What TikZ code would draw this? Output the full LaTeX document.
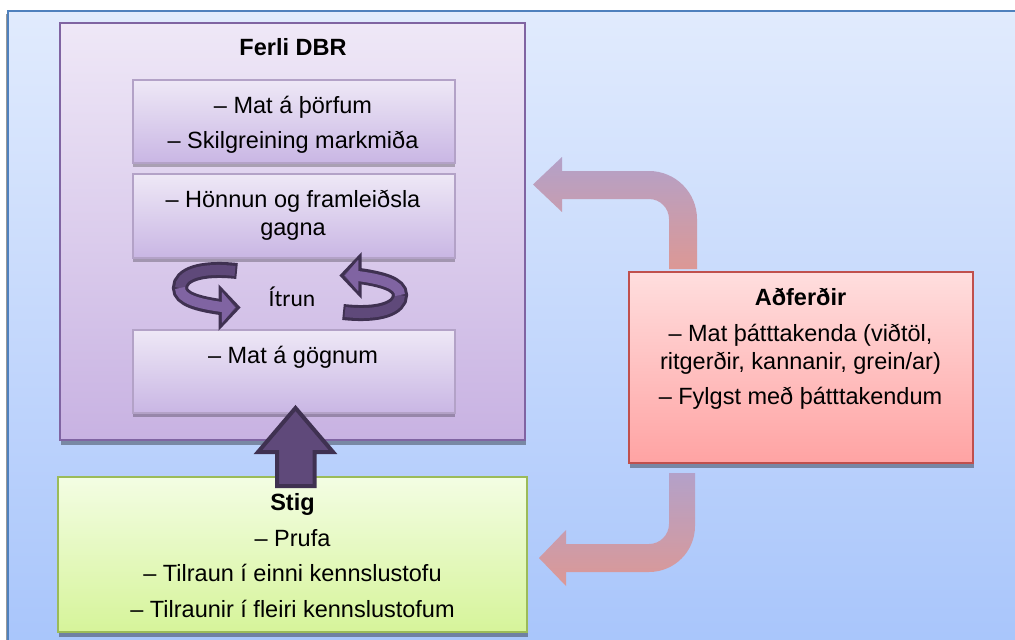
\documentclass[tikz,border=0pt]{standalone}
\usepackage{fontspec}
\setmainfont{Liberation Sans}
\newfontfamily\calibrifont{Carlito}
\usetikzlibrary{shadows,calc}
\definecolor{bgtop}{HTML}{E1EBFD}
\definecolor{bgbot}{HTML}{A8C5FB}
\definecolor{bgline}{HTML}{4F81BD}
\definecolor{purtop}{HTML}{EFE8F7}
\definecolor{purbot}{HTML}{C8B2E2}
\definecolor{purline}{HTML}{8064A2}
\definecolor{intop}{HTML}{EEE8F6}
\definecolor{inbot}{HTML}{C9B6E4}
\definecolor{inline}{HTML}{B3A2C7}
\definecolor{redtop}{HTML}{FFDEDE}
\definecolor{redbot}{HTML}{FFA3A3}
\definecolor{redline}{HTML}{C0504D}
\definecolor{grntop}{HTML}{F3FDE3}
\definecolor{grnbot}{HTML}{D6F49A}
\definecolor{grnline}{HTML}{9BBB59}
\definecolor{darkpur}{HTML}{5F497A}
\definecolor{darkline}{HTML}{3F3151}
\definecolor{midpur}{HTML}{8064A2}
\definecolor{bendtop}{HTML}{B3A1C9}
\definecolor{bendbot}{HTML}{DC9895}
\begin{document}
\begin{tikzpicture}[x=1pt,y=-1pt,
  ln/.style={anchor=base, inner sep=0pt, font=\fontsize{23.5}{28}\selectfont},
  hd/.style={anchor=base, inner sep=0pt, font=\fontsize{23.5}{28}\selectfont\bfseries},
  boxbase/.style={rectangle, inner sep=0pt},
  bigbox/.style={boxbase, draw=purline, line width=2.2pt, top color=purtop, bottom color=purbot,
     drop shadow={shadow xshift=1pt, shadow yshift=-5pt, opacity=.35, fill=black}},
  inbox/.style={boxbase, draw=inline, line width=1.6pt, top color=intop, bottom color=inbot,
     minimum width=322, minimum height=83,
     drop shadow={shadow xshift=0pt, shadow yshift=-4pt, opacity=.25, fill=black}},
  redbox/.style={boxbase, draw=redline, line width=2pt, top color=redtop, bottom color=redbot,
     drop shadow={shadow xshift=1pt, shadow yshift=-5pt, opacity=.35, fill=black}},
  grnbox/.style={boxbase, draw=grnline, line width=2pt, top color=grntop, bottom color=grnbot,
     drop shadow={shadow xshift=1pt, shadow yshift=-5pt, opacity=.35, fill=black}},
  bentarrow/.style={top color=bendtop, bottom color=bendbot, draw=none},
  blockarrow/.style={fill=darkpur, draw=darkline, line width=4pt, line join=miter},
  ringout/.style={draw=darkline, line width=16pt, line cap=butt},
  ringback/.style={draw=darkpur, line width=10pt, line cap=butt},
  ringfront/.style={draw=midpur, line width=10pt, line cap=butt},
]
\useasboundingbox (0,0) rectangle (1015,640);
\clip (0,0) rectangle (1015,640);
% background frame
\draw[line width=2pt, draw=bgline, top color=bgtop, bottom color=bgbot,
  drop shadow={shadow xshift=-2pt, shadow yshift=-3pt, opacity=.4, fill=black}]
  (7.5,10.5) rectangle (1035,648);

% bent arrows (drawn below boxes)
\draw[bentarrow] (669,269) -- (669,219) .. controls (669,208) and (660,199) .. (649,199)
  -- (562,199) -- (562,212) -- (533,184.5) -- (562,157) -- (562,171) -- (649,171)
  .. controls (675.5,171) and (697,192.5) .. (697,219) -- (697,269) -- cycle;
\draw[bentarrow] (669,473) -- (695,473) -- (695,526) .. controls (695,551.4) and (674.4,572) .. (649,572)
  -- (566,572) -- (566,586) -- (539,558) -- (566,530) -- (566,544) -- (649,544)
  .. controls (660,544) and (669,535) .. (669,524) -- cycle;

% main boxes
\node[bigbox, minimum width=465, minimum height=417] (ferli) at (292.5,231.5) {};
\node[inbox] (b1) at (294,121.5) {};
\node[inbox, minimum height=84] (b2) at (294,216) {};
\node[inbox] (b3) at (294,371.5) {};
\node[grnbox, minimum width=469, minimum height=155] (stig) at (292.5,554.5) {};
\node[redbox, minimum width=344, minimum height=191] (adf) at (801,367.5) {};

% up block arrow from stig to b3
\coordinate (uptip) at (295.5,408);
\draw[blockarrow] (uptip) -- ($(uptip)+(37.5,44)$) -- ($(uptip)+(19,44)$) -- ($(uptip)+(19,78)$)
  -- ($(uptip)+(-18.5,78)$) -- ($(uptip)+(-18.5,44)$) -- ($(uptip)+(-37.5,44)$) -- cycle;

% texts
\node[hd] (t0) at (293,55) {Ferli DBR};
\node[ln] (t1) at (293,113) {– Mat á þörfum};
\node[ln] (t2) at (293,148) {– Skilgreining markmiða};
\node[ln] (t3) at (293,207) {– Hönnun og framleiðsla};
\node[ln] (t4) at (293,235) {gagna};
\node[ln] (t5) at (293,363) {– Mat á gögnum};
\node[anchor=base, inner sep=0pt, font=\calibrifont\fontsize{23.5}{28}\selectfont] (itrun) at (292,306) {Ítrun};

\node[hd] (s0) at (292.5,510) {Stig};
\node[ln] (s1) at (292.5,546) {– Prufa};
\node[ln] (s2) at (292.5,581) {– Tilraun í einni kennslustofu};
\node[ln] (s3) at (292.5,617) {– Tilraunir í fleiri kennslustofum};

\node[hd] (a0) at (800.5,305) {Aðferðir};
\node[ln] (a1) at (800.5,341) {– Mat þátttakenda (viðtöl,};
\node[ln] (a2) at (800.5,369) {ritgerðir, kannanir, grein/ar)};
\node[ln] (a3) at (800.5,404) {– Fylgst með þátttakendum};

% circular arrows (Ítrun)
\foreach \ang in {0,180}{
\begin{scope}[rotate around={\ang:(290,291.5)}]
  \draw[ringout] (237,271) .. controls (200,267) and (180,275) .. (180,288)
     .. controls (180,299) and (198,304) .. (224,307.5);
  \draw[blockarrow, line width=3pt] (220,288) -- (238.5,307.5) -- (220,327) -- cycle;
  \draw[ringback] (235,271) .. controls (200,267) and (180,275) .. (180,288);
  \draw[ringfront] (180,288) .. controls (180,299) and (198,304) .. (226,307.5);
  \fill[midpur] (222,292) -- (235,307.5) -- (222,323) -- cycle;
\end{scope}}
\end{tikzpicture}
\end{document}
